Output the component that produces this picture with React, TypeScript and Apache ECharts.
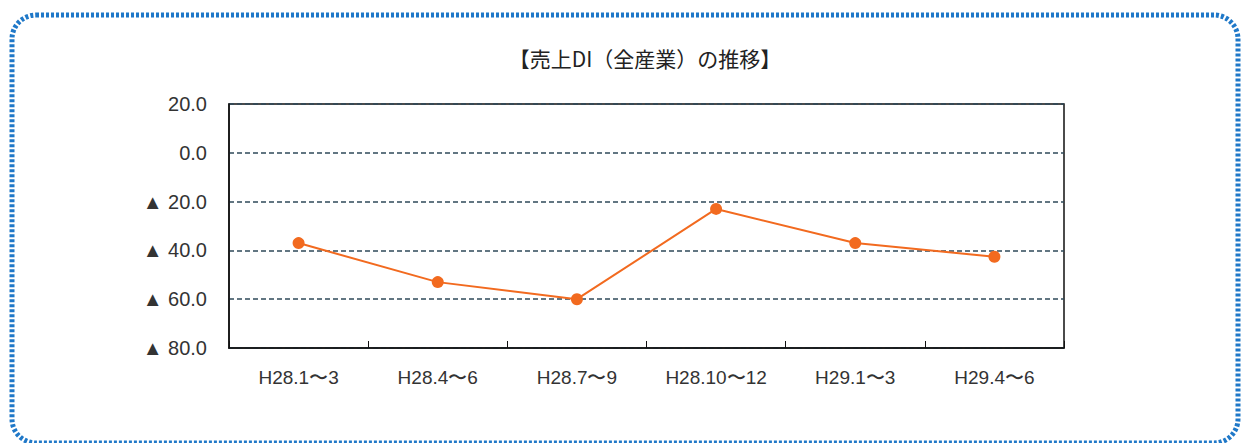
import React, { useEffect, useRef } from "react";
import * as echarts from "echarts";

const categories = ["H28.1〜3", "H28.4〜6", "H28.7〜9", "H28.10〜12", "H29.1〜3", "H29.4〜6"];
const salesDI = [-37, -53, -60, -23, -37, -42.6];
const titleText = "【売上DI（全産業）の推移】";

const fmt = (v: number) => (v < 0 ? "▲ " + Math.abs(v).toFixed(1) : v.toFixed(1));

export default function App() {
  const ref = useRef<HTMLDivElement>(null);
  useEffect(() => {
    if (!ref.current) return;
    const chart = echarts.init(ref.current, undefined, { renderer: "svg" });
    chart.setOption({
      animation: false,
      backgroundColor: "#ffffff",
      title: {
        text: titleText,
        left: 640,
        textAlign: "center",
        top: 42,
        textStyle: { fontSize: 21, fontWeight: "normal", color: "#222", fontFamily: "Noto Sans CJK JP" },
      },
      graphic: [
        {
          type: "rect",
          shape: { x: 12, y: 15, width: 1226, height: 428, r: 24 },
          style: { fill: "none", stroke: "#1f78c8", lineWidth: 5, lineDash: [3, 2] },
          silent: true,
        },
      ],
      grid: {
        left: 229,
        right: 180,
        top: 104,
        bottom: 95,
        show: true,
        borderColor: "#111",
        borderWidth: 1.5,
      },
      xAxis: {
        type: "category",
        data: categories,
        boundaryGap: true,
        axisLine: { show: true, onZero: false, lineStyle: { color: "#111", width: 1.5 } },
        axisTick: { show: true, inside: true, length: 7, lineStyle: { color: "#111" } },
        axisLabel: { fontSize: 19, color: "#333", margin: 20, fontFamily: "Liberation Sans" },
      },
      yAxis: {
        type: "value",
        min: -80,
        max: 20,
        interval: 20,
        axisLine: { show: true, lineStyle: { color: "#111", width: 1.5 } },
        axisTick: { show: false },
        axisLabel: {
          fontSize: 20,
          color: "#333",
          margin: 22,
          fontFamily: "Liberation Sans",
          formatter: (v: number) => fmt(v),
        },
        splitLine: { show: true, lineStyle: { color: "#2f4a5a", type: [5, 3], width: 1.5 } },
      },
      series: [
        {
          type: "line",
          data: salesDI,
          symbol: "circle",
          symbolSize: 12,
          lineStyle: { color: "#f26a1f", width: 2 },
          itemStyle: { color: "#f26a1f" },
        },
      ],
    });
    return () => chart.dispose();
  }, []);
  return <div ref={ref} style={{ position: "fixed", left: 0, top: 0, width: 1244, height: 443 }} />;
}
